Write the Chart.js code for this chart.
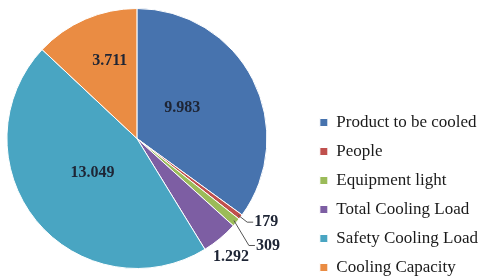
<!DOCTYPE html>
<html>
<head>
<meta charset="utf-8">
<script src="https://cdn.jsdelivr.net/npm/chart.js@4.4.1/dist/chart.umd.min.js"></script>
<style>
  html, body { margin: 0; padding: 0; background: #ffffff; overflow: hidden; }
  #wrap { width: 479px; height: 277px; position: relative; overflow: hidden; }
  /* canvas is a bit wider than the window so the pie sits left and the legend right */
  #inner { position: absolute; left: -34px; top: 0; width: 522px; height: 277px; }
</style>
</head>
<body>
<div id="wrap"><div id="inner"><canvas id="loadChart"></canvas></div></div>
<script>
// --- data ---
const categories = ['Product to be cooled', 'People', 'Equipment light', 'Total Cooling Load', 'Safety Cooling Load', 'Cooling Capacity'];
const loadValues = [9983, 179, 309, 1292, 13049, 3711];
const valueLabels = ['9.983', '179', '309', '1.292', '13.049', '3.711'];
const sliceColors = ['#4773ae', '#c0504d', '#9bbb59', '#7d5ea3', '#49a5c2', '#ea8c43'];

const serif = "'Liberation Serif', 'Times New Roman', serif";
Chart.defaults.font.family = serif;
Chart.defaults.font.size = 17;
Chart.defaults.color = '#1a1a1a';

// label placement: inside slices use a radial fraction, outer ones get a leader line
const labelPlace = [
    { r: 0.42, shift: -0.12 },
    { leader: true, dx: 15, dy: 7 },
    { leader: true, dx: 21, dy: 25 },
    { r: 1.16, shift: 0.02 },
    { r: 0.43, shift: 0.03 },
    { r: 0.63, shift: 0.07 }
];

const labelPlugin = {
    id: 'sliceLabels',
    afterDatasetsDraw(chart) {
        const ctx = chart.ctx;
        const arcs = chart.getDatasetMeta(0).data;
        ctx.save();
        ctx.font = 'bold 16px ' + serif;
        ctx.fillStyle = '#1e2535';
        ctx.textBaseline = 'middle';
        arcs.forEach((arc, i) => {
            const { x, y, startAngle, endAngle, outerRadius } = arc.getProps(['x', 'y', 'startAngle', 'endAngle', 'outerRadius'], true);
            const mid = (startAngle + endAngle) / 2;
            const p = labelPlace[i];
            if (p.leader) {
                const ax = x + Math.cos(mid) * (outerRadius - 3);
                const ay = y + Math.sin(mid) * (outerRadius - 3);
                const ex = ax + p.dx - 6;
                const ey = ay + p.dy;
                ctx.strokeStyle = '#555555';
                ctx.lineWidth = 1;
                ctx.beginPath();
                ctx.moveTo(ax, ay);
                ctx.lineTo(ex, ey);
                ctx.lineTo(ex + 6, ey);
                ctx.stroke();
                ctx.textAlign = 'left';
                ctx.fillText(valueLabels[i], ex + 7, ey);
            } else {
                const a = mid + p.shift;
                ctx.textAlign = 'center';
                ctx.fillText(valueLabels[i], x + Math.cos(a) * outerRadius * p.r, y + Math.sin(a) * outerRadius * p.r);
            }
        });
        ctx.restore();
    }
};

new Chart(document.getElementById('loadChart'), {
    type: 'pie',
    data: {
        labels: categories,
        datasets: [{
            data: loadValues,
            backgroundColor: sliceColors,
            borderColor: '#ffffff',
            borderWidth: 1,
            radius: 130
        }]
    },
    options: {
        responsive: true,
        maintainAspectRatio: false,
        animation: false,
        layout: { padding: { left: 0, top: -12, bottom: -11, right: 0 } },
        plugins: {
            legend: {
                position: 'right',
                align: 'end',
                labels: {
                    boxWidth: 8,
                    boxHeight: 8,
                    padding: 12,
                    color: '#1a1a1a',
                    font: { family: serif, size: 17 }
                }
            },
            tooltip: { enabled: false }
        }
    },
    plugins: [labelPlugin]
});
</script>
</body>
</html>
